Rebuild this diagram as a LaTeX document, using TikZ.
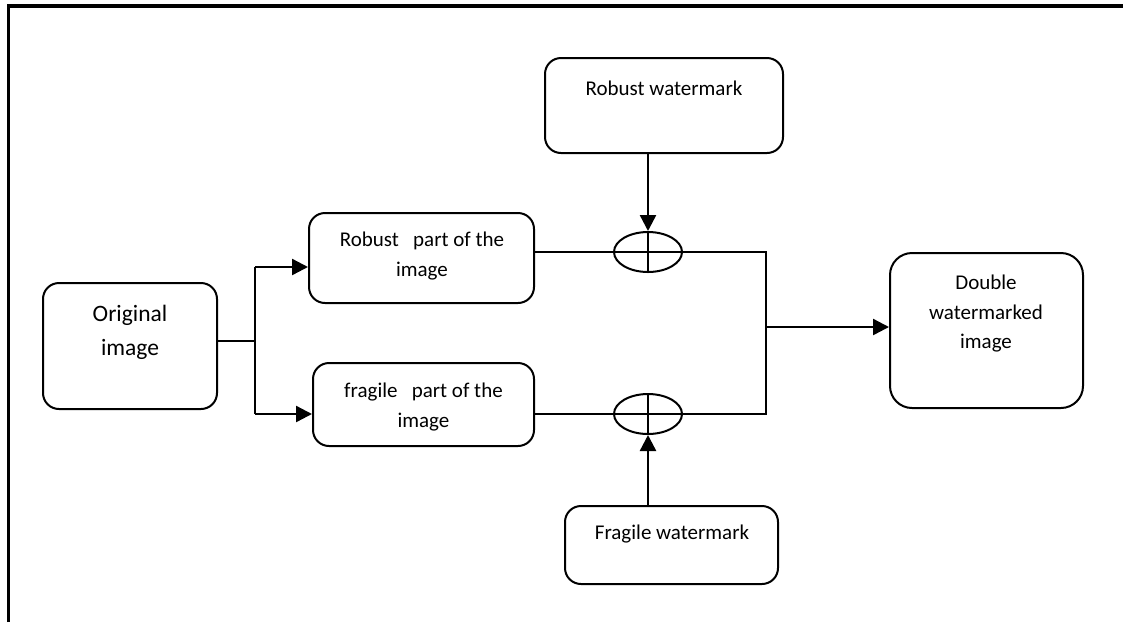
\documentclass[tikz,border=0pt]{standalone}
\usepackage{fontspec}
\setmainfont{Carlito}
\usetikzlibrary{arrows.meta, shapes.geometric}

\begin{document}
\begin{tikzpicture}[x=1pt, y=-1pt,
  box/.style={draw, line width=2pt, rounded corners=16pt, inner sep=0pt},
  lbl/.style={align=center, inner sep=0pt, font=\fontsize{21}{29.5}\selectfont},
  xor/.style={draw, ellipse, line width=2pt, minimum width=68pt, minimum height=40pt, inner sep=0pt},
  wire/.style={line width=2pt},
  arr/.style={-{Triangle[length=16pt, width=16pt]}, line width=2.4pt}]
  \useasboundingbox (0,0) rectangle (1123,622);
  % frame
  \draw[line width=3.5pt] (8.5,622) -- (8.5,6) -- (1123,6);
  % boxes
  \node[box, minimum width=174pt, minimum height=126pt] (orig) at (130,346) {};
  \node[box, minimum width=225pt, minimum height=90pt] (rpart) at (421.5,258) {};
  \node[box, minimum width=221pt, minimum height=83pt] (fpart) at (423.5,404.5) {};
  \node[box, minimum width=238pt, minimum height=95pt] (rwm) at (664,105.5) {};
  \node[box, minimum width=213pt, minimum height=78pt] (fwm) at (671.5,545) {};
  \node[box, rounded corners=22pt, minimum width=193pt, minimum height=155pt] (dbl) at (986.5,330.5) {};
  % texts
  \node[lbl, font=\fontsize{23.5}{34}\selectfont] (origtxt) at (130,332) {Original\\image};
  \node[lbl] (rparttxt) at (422,256) {Robust\ \ \ part of the\\image};
  \node[lbl] (fparttxt) at (423.5,407) {fragile\ \ \ part of the\\image};
  \node[lbl] (rwmtxt) at (664,88) {Robust watermark};
  \node[lbl] (fwmtxt) at (672,534) {Fragile watermark};
  \node[lbl] (dbltxt) at (986,314) {Double\\watermarked\\image};
  % adders
  \node[xor] (e1) at (648,252) {};
  \node[xor] (e2) at (648,414) {};
  \draw[wire] (e1.west) -- (e1.east) (e1.north) -- (e1.south);
  \draw[wire] (e2.west) -- (e2.east) (e2.north) -- (e2.south);
  % split
  \coordinate (split) at (255,341);
  \coordinate (st) at (255,267);
  \coordinate (sb) at (255,414);
  \draw[wire] (orig.east |- split) -- (split);
  \draw[line width=2.4pt] (st) -- (sb);
  \draw[arr] (st) -- (st -| rpart.west);
  \draw[arr] (sb) -- (sb -| fpart.west);
  % merge
  \coordinate (mt) at (766,252);
  \coordinate (mb) at (766,414);
  \coordinate (mid) at (766,327);
  \draw[wire] (rpart.east |- e1) -- (e1.west);
  \draw[wire] (fpart.east |- e2) -- (e2.west);
  \draw[wire] (e1.east) -- (mt) -- (mb) -- (e2.east);
  \draw[arr] (mid) -- (mid -| dbl.west);
  % watermarks
  \draw[arr] (rwm.south -| e1.north) -- (e1.north);
  \draw[arr] (fwm.north -| e2.south) -- (e2.south);
\end{tikzpicture}
\end{document}
